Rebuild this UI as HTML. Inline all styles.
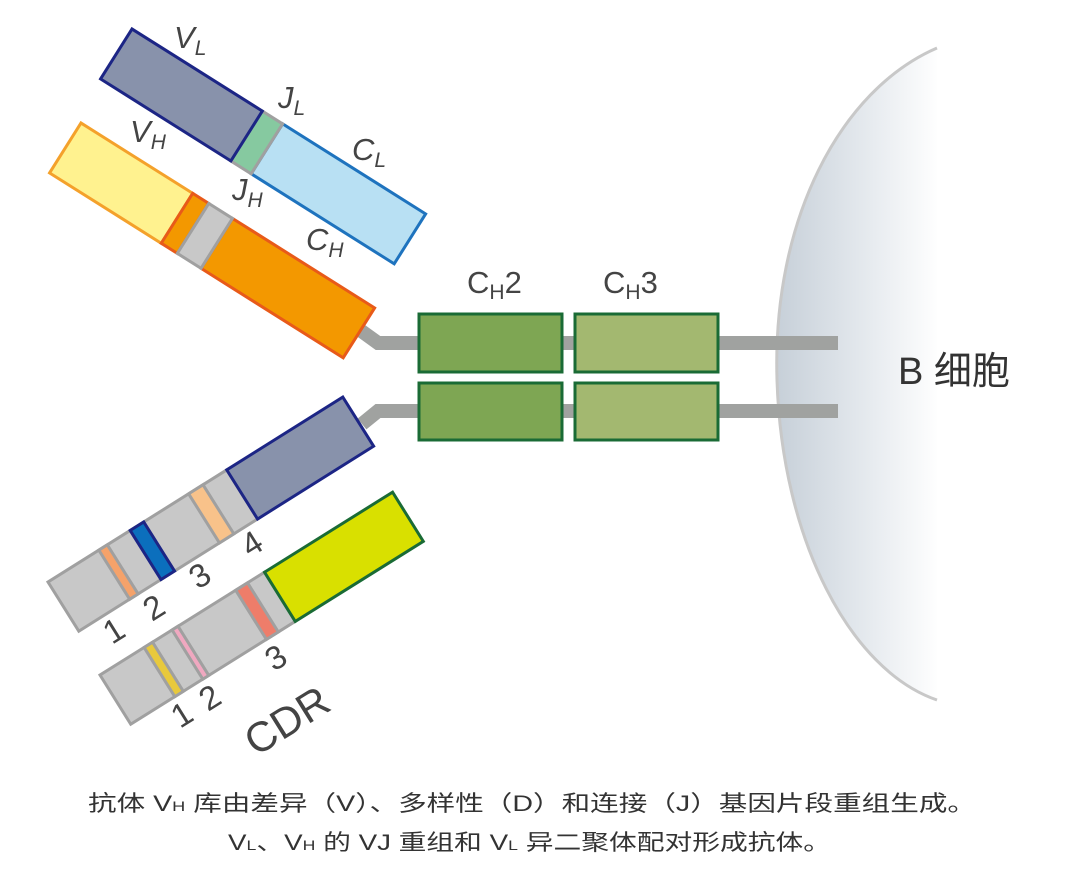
<!DOCTYPE html>
<html><head><meta charset="utf-8"><style>
html,body{margin:0;padding:0;background:#fff;}
svg{display:block;}
text{font-family:"Liberation Sans","Noto Sans CJK SC",sans-serif;fill:#444;}
</style></head><body>
<svg width="1080" height="875" viewBox="0 0 1080 875" xmlns="http://www.w3.org/2000/svg">
<defs>
<linearGradient id="cell" x1="775" y1="0" x2="940" y2="0" gradientUnits="userSpaceOnUse">
<stop offset="0" stop-color="#c6cfd8"/><stop offset="0.5" stop-color="#e2e7ec"/><stop offset="1" stop-color="#ffffff"/>
</linearGradient>
</defs>
<!-- B cell -->
<path d="M937,48 C840,90 772,220 777,380 C782,540 850,670 937,700" fill="url(#cell)" stroke="#c8c8c8" stroke-width="3"/>
<text x="898" y="384" font-size="38" style="fill:#333">B 细胞</text>

<!-- grey connectors -->
<g stroke="#a0a2a0" stroke-width="14" fill="none">
<polyline points="360,330 378,343 420,343"/>
<polyline points="362,424 378,411 420,411"/>
<line x1="560" y1="343" x2="576" y2="343"/>
<line x1="560" y1="411" x2="576" y2="411"/>
<line x1="716" y1="343" x2="838" y2="343"/>
<line x1="716" y1="411" x2="838" y2="411"/>
</g>

<!-- green boxes -->
<g stroke="#1a6b35" stroke-width="3">
<rect x="419" y="314" width="143" height="58" fill="#7ea653"/>
<rect x="575" y="314" width="143" height="58" fill="#a3b870"/>
<rect x="419" y="383" width="143" height="57" fill="#7ea653"/>
<rect x="575" y="383" width="143" height="57" fill="#a3b870"/>
</g>
<text x="467" y="293" font-size="31">C<tspan font-size="21" dy="6">H</tspan><tspan dy="-6">2</tspan></text>
<text x="603" y="293" font-size="31">C<tspan font-size="21" dy="6">H</tspan><tspan dy="-6">3</tspan></text>

<!-- light chain upper -->
<g transform="translate(132,29) rotate(32.2)" stroke-width="3">
<rect x="178" y="0" width="169" height="59" fill="#b8e0f3" stroke="#1e73be"/>
<rect x="154" y="0" width="24" height="59" fill="#86c9a0" stroke="#a0a0a0"/>
<rect x="0" y="0" width="154" height="59" fill="#8892ab" stroke="#1c2585"/>
</g>
<!-- heavy chain upper -->
<g transform="translate(81,123) rotate(32.2)" stroke-width="3">
<rect x="0" y="0" width="132" height="59" fill="#fff28f" stroke="#f4a12b"/>
<rect x="179" y="0" width="168" height="59" fill="#f39800" stroke="#e85a19"/>
<rect x="132" y="0" width="19" height="59" fill="#f39800" stroke="#e85a19"/>
<rect x="151" y="0" width="28" height="59" fill="#c8c8c8" stroke="#a0a0a0"/>
</g>
<g font-size="31" font-style="italic">
<text x="174" y="48">V<tspan font-size="21" dy="7">L</tspan></text>
<text x="278" y="108">J<tspan font-size="21" dy="7">L</tspan></text>
<text x="352" y="160">C<tspan font-size="21" dy="7">L</tspan></text>
<text x="130" y="142">V<tspan font-size="21" dy="7">H</tspan></text>
<text x="232" y="200">J<tspan font-size="21" dy="7">H</tspan></text>
<text x="306" y="250">C<tspan font-size="21" dy="7">H</tspan></text>
</g>

<!-- lower chain A (1 2 3 4) -->
<g transform="translate(48,582) rotate(-32.1)" stroke-width="3">
<rect x="0" y="0" width="211" height="58" fill="#c8c8c8" stroke="#a0a0a0"/>
<rect x="60" y="0" width="10" height="58" fill="#f5a26a" stroke="#a0a0a0"/>
<rect x="97" y="0" width="16" height="58" fill="#0b6fbd" stroke="#1c2585"/>
<rect x="166" y="0" width="17" height="58" fill="#f8c28a" stroke="#a0a0a0"/>
<rect x="211" y="0" width="137" height="58" fill="#8892ab" stroke="#1c2585"/>
</g>
<!-- lower chain B (1 2 3) -->
<g transform="translate(100,675) rotate(-32)" stroke-width="3">
<rect x="0" y="0" width="194" height="58" fill="#c8c8c8" stroke="#a0a0a0"/>
<rect x="52" y="0" width="10" height="58" fill="#e8c93c" stroke="#a0a0a0"/>
<rect x="85" y="0" width="7" height="58" fill="#f0a8c0" stroke="#a0a0a0"/>
<rect x="160" y="0" width="14" height="58" fill="#ee7d6a" stroke="#a0a0a0"/>
<rect x="194" y="0" width="151" height="58" fill="#d9e000" stroke="#1a6b35"/>
</g>
<g font-size="33">
<text transform="translate(112,645) rotate(-32)">1</text>
<text transform="translate(152,622) rotate(-32)">2</text>
<text transform="translate(198,590) rotate(-32)">3</text>
<text transform="translate(250,558) rotate(-32)">4</text>
<text transform="translate(180,729) rotate(-32)">1</text>
<text transform="translate(208,712) rotate(-32)">2</text>
<text transform="translate(274,672) rotate(-32)">3</text>
<text transform="translate(256,757) rotate(-32)" font-size="42">CDR</text>
</g>

<!-- caption -->
<text x="88" y="811" font-size="22" textLength="888" lengthAdjust="spacingAndGlyphs" style="fill:#333">抗体 V<tspan font-size="14">H</tspan> 库由差异（V）、多样性（D）和连接（J）基因片段重组生成。</text>
<text x="228" y="850" font-size="22" textLength="603" lengthAdjust="spacingAndGlyphs" style="fill:#333">V<tspan font-size="14">L</tspan>、V<tspan font-size="14">H</tspan> 的 VJ 重组和 V<tspan font-size="14">L</tspan> 异二聚体配对形成抗体。</text>
</svg>
</body></html>
